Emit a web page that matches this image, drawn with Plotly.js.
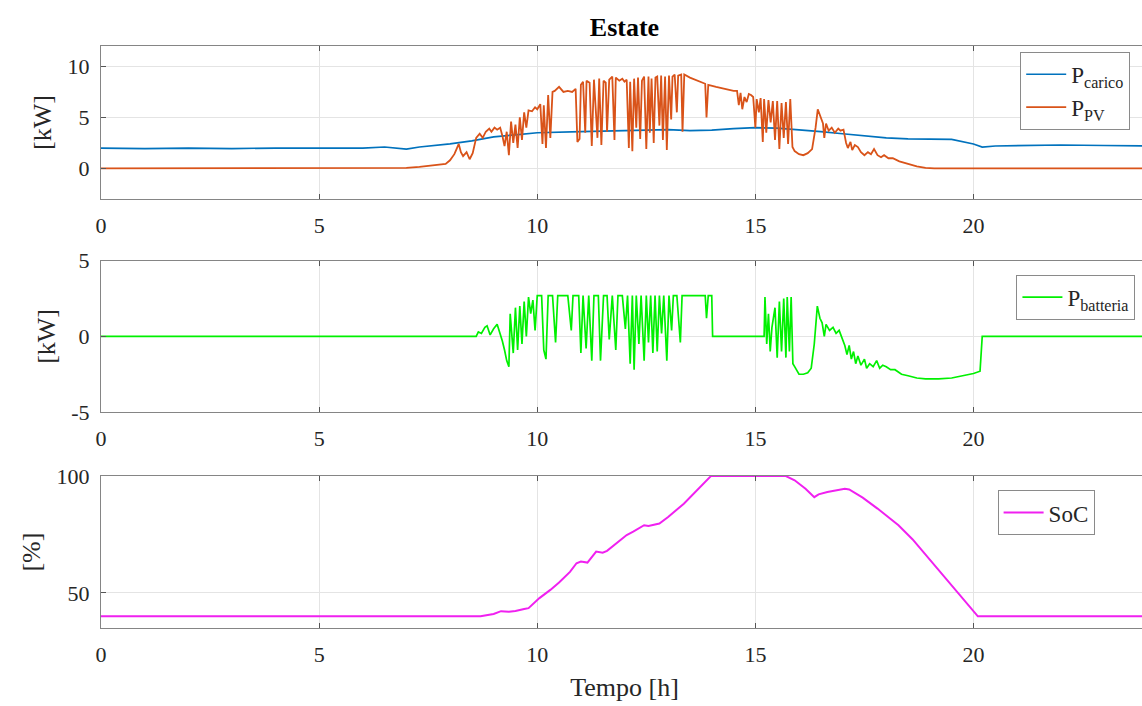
<!DOCTYPE html>
<html>
<head>
<meta charset="utf-8">
<script src="https://cdn.plot.ly/plotly-3.0.1.min.js"></script>
<style>
html,body{margin:0;padding:0;overflow:hidden;background:#fff;}
#chart{width:1148px;height:706px;}
</style>
</head>
<body>
<div id="chart"></div>
<script>
// ---- Data ----
const chartTitle = 'Estate';
const xTickVals = [0, 5, 10, 15, 20];
const y1TickVals = [0, 5, 10];
const y2TickVals = [-5, 0, 5];
const y2TickText = ['-5', '0', '5'];
const y3TickVals = [50, 100];

// Load power [kW]
const loadTime = [0,1,2,3,4,5,6,6.5,7,7.3,7.6,8,8.5,9,9.5,10,11,12,13,13.5,14,14.5,15,15.5,16,16.5,17,17.5,18,18.5,19,19.5,20,20.2,20.5,21,22,23,24];
const loadPower = [2.0,1.95,2.0,1.95,2.0,2.0,2.0,2.1,1.9,2.1,2.2,2.4,2.7,3.1,3.3,3.5,3.6,3.7,3.8,3.7,3.75,3.9,4.0,3.95,3.8,3.6,3.4,3.2,3.0,2.9,2.9,2.85,2.4,2.1,2.2,2.25,2.3,2.25,2.2];

// PV power [kW]
const pvTime = [0,6.8,7.0,7.3,7.6,7.9,8.0,8.1,8.15,8.2,8.25,8.3,8.38,8.45,8.52,8.6,8.68,8.75,8.82,8.9,8.95,9.02,9.08,9.15,9.2,9.25,9.3,9.35,9.4,9.45,9.5,9.55,9.6,9.65,9.7,9.75,9.8,9.88,9.95,10.0,10.07,10.12,10.15,10.2,10.25,10.3,10.35,10.4,10.5,10.55,10.6,10.7,10.8,10.88,10.92,10.97,11.0,11.05,
11.1,11.13,11.2,11.25,11.3,11.38,11.42,11.47,11.52,11.57,11.6,11.65,11.72,11.77,11.8,11.88,11.95,12.0,12.05,12.1,12.13,12.18,12.22,12.27,12.31,12.36,12.4,12.45,12.5,12.55,12.58,12.62,12.67,12.71,12.75,12.8,12.84,12.88,12.93,12.97,13.02,13.07,13.1,13.15,13.2,13.23,13.3,13.33,13.37,13.5,13.7,13.85,13.88,13.92,14.1,14.3,14.5,14.58,14.62,14.66,14.7,14.75,14.8,14.85,14.9,14.95,15.0,15.03,15.08,15.12,15.17,15.2,15.25,15.3,15.35,15.4,15.45,15.5,15.55,15.6,15.65,15.7,15.75,15.8,15.85,15.9,16.0,16.1,16.2,16.3,16.38,16.43,16.5,16.55,16.58,16.62,16.68,16.75,16.82,16.9,16.95,17.02,17.08,17.12,17.18,17.22,17.28,17.35,17.42,17.5,17.58,17.65,17.72,17.8,17.88,17.95,18.05,18.15,18.3,18.5,18.7,18.9,19.1,24];
const pvPower = [0,0,0.05,0.15,0.3,0.45,0.8,1.4,1.9,2.4,1.6,1.2,1.6,0.9,1.5,3.0,3.4,3.0,3.6,3.9,3.6,4.0,3.8,4.0,3.2,2.2,3.6,1.3,4.6,2.5,4.3,2.0,5.0,2.8,5.5,4.0,5.7,5.6,6.0,5.8,6.3,2.4,6.2,2.0,7.2,3.0,7.5,7.6,8.0,7.7,7.5,7.6,7.5,7.8,2.6,2.9,8.2,8.5,
3.5,8.6,8.4,2.2,8.7,3.0,8.8,2.3,8.6,8.4,3.6,8.7,9.0,2.8,8.9,8.6,8.8,8.5,8.7,2.0,8.5,1.7,8.8,4.0,8.9,2.9,8.6,9.0,1.9,9.0,3.5,8.8,2.5,8.9,9.0,4.2,9.1,2.8,9.0,1.8,9.1,4.8,9.0,9.2,5.5,9.1,9.2,3.6,9.2,8.9,8.6,8.3,5.0,8.2,8.0,7.8,7.6,7.6,6.2,7.4,5.8,7.0,6.5,7.3,7.2,7.0,4.0,6.8,5.5,6.9,2.6,6.8,3.5,6.7,4.5,6.6,2.8,6.6,1.9,6.4,3.0,6.5,2.4,6.8,2.1,1.7,1.4,1.3,1.5,1.9,4.0,5.8,4.9,4.4,3.0,4.4,3.7,4.0,3.5,3.9,3.7,3.8,2.5,2.0,2.6,1.8,2.3,2.1,1.6,1.3,1.6,1.4,1.9,1.3,1.1,1.3,1.0,1.0,0.7,0.45,0.2,0.05,0,0];

// Battery power [kW]
const batTime = [0,8.6,8.65,8.72,8.8,8.85,8.92,9.0,9.08,9.15,9.2,9.25,9.3,9.35,9.38,9.45,9.5,9.55,9.6,9.65,9.7,9.75,9.8,9.85,9.9,9.95,10.0,10.1,10.15,10.2,10.25,10.35,10.42,10.47,10.7,10.78,10.82,10.95,11.0,11.05,11.12,11.18,11.25,11.3,11.4,11.45,11.52,11.6,11.65,11.72,11.8,11.85,11.95,12.02,12.07,12.13,12.18,12.22,12.27,12.33,12.38,12.45,12.5,12.55,12.6,12.65,12.7,12.75,12.8,12.85,12.9,12.97,13.02,13.08,13.12,13.2,13.28,13.32,13.5,13.85,13.88,13.92,14.0,14.02,15.2,15.22,15.26,15.3,15.34,15.38,15.45,15.5,15.55,15.6,15.65,15.7,15.73,15.78,15.82,15.86,15.9,16.0,16.1,16.2,16.28,16.35,16.42,16.48,16.53,16.58,16.62,16.7,16.78,16.85,16.92,17.0,17.05,17.1,17.15,17.2,17.25,17.3,17.35,17.42,17.5,17.55,17.62,17.7,17.78,17.85,17.92,18.0,18.1,18.2,18.35,18.5,18.7,18.9,19.2,19.5,19.8,20.0,20.15,20.2,24];
const batPower = [0,0,0.3,0.2,0.6,0.7,0.1,0.5,0.8,0.2,-0.3,-0.9,-1.6,-2.0,1.5,-1.1,1.9,-0.9,2.0,-0.5,2.3,0.0,2.6,1.5,2.4,0.4,2.7,2.7,-0.9,-1.5,2.7,2.7,-0.4,2.7,2.7,0.4,2.7,2.7,-1.1,2.7,-0.8,2.7,-1.6,2.7,2.7,-1.6,2.7,2.7,-0.2,2.7,-0.9,2.7,2.7,0.5,2.7,-1.8,2.7,-2.2,2.7,-0.5,2.7,-1.6,2.7,-0.4,2.7,-1.1,2.7,-1.0,2.7,0.2,2.7,-1.6,2.7,0.4,2.7,2.7,-0.4,2.7,2.7,2.7,1.2,2.7,2.7,0,0,2.6,-0.5,1.5,-1.0,0.6,1.9,-1.4,2.3,-1.0,2.5,-1.4,2.6,-1.0,2.6,-1.8,-2.0,-2.5,-2.5,-2.4,-2.1,-0.5,2.0,1.2,0.9,0.0,0.8,0.4,0.6,0.2,0.4,-0.3,-0.6,-1.2,-0.6,-1.5,-1.0,-1.8,-1.3,-1.9,-1.5,-2.1,-1.8,-2.0,-1.6,-2.1,-1.9,-2.0,-2.2,-2.2,-2.5,-2.6,-2.75,-2.8,-2.8,-2.75,-2.6,-2.45,-2.3,0,0];

// State of charge [%]
const socTime = [0,8.7,9.0,9.17,9.35,9.5,9.7,9.8,10.05,10.3,10.5,10.75,10.9,11.0,11.15,11.35,11.5,11.6,12.05,12.2,12.45,12.55,12.8,13.0,13.36,13.7,13.98,15.7,15.9,16.15,16.35,16.45,16.65,17.05,17.15,17.46,17.8,18.28,18.6,20.1,24];
const socValue = [40,40,41,42.2,42,42.3,43.1,43.5,47.8,51.3,54.5,59,62.7,63.4,63,67.7,67.2,68,74.8,76.2,79,78.7,79.7,82.5,88.2,94.6,100,100,98.2,94.6,91,92.2,93.2,94.6,94.3,90.8,86.1,79,73,40,40];

const seriesNames = ['P<sub>carico</sub>', 'P<sub>PV</sub>', 'P<sub>batteria</sub>', 'SoC'];

// ---- Styling ----
const FONT = 'Liberation Serif, Times New Roman, serif';
const gridC = '#e4e4e4';
const lineC = '#858585';

function xAxis(anchor, withTitle) {
  const a = {
    anchor: anchor, range: [0, 24], tickvals: xTickVals, ticks: 'inside', ticklen: 5,
    tickcolor: '#555', showline: true, linecolor: lineC, linewidth: 1, mirror: 'ticks',
    showgrid: true, gridcolor: gridC, zeroline: false, ticklabelstandoff: 7,
    tickfont: {family: FONT, size: 22, color: '#262626'}
  };
  if (withTitle) a.title = {text: 'Tempo [h]', font: {family: FONT, size: 26, color: '#262626'}, standoff: 11};
  return a;
}
function yAxis(anchor, domain, range, tickvals, ticktext, title) {
  const a = {
    anchor: anchor, domain: domain, range: range, tickvals: tickvals, ticks: 'inside', ticklen: 5,
    tickcolor: '#555', showline: true, linecolor: lineC, linewidth: 1, mirror: 'ticks',
    showgrid: true, gridcolor: gridC, zeroline: false, ticklabelstandoff: 6,
    tickfont: {family: FONT, size: 22, color: '#262626'},
    title: {text: title, font: {family: FONT, size: 26, color: '#262626'}, standoff: 8}
  };
  if (ticktext) a.ticktext = ticktext;
  return a;
}
function legendBox(x, y) {
  return {x: x, y: y, xanchor: 'right', yanchor: 'top', bgcolor: '#fff', bordercolor: '#8a8a8a',
    borderwidth: 1, font: {family: FONT, size: 23, color: '#262626'}, tracegroupgap: 0, itemwidth: 40};
}

const traces = [
  {x: loadTime, y: loadPower, name: seriesNames[0], mode: 'lines', line: {color: '#0072BD', width: 1.7}, xaxis: 'x', yaxis: 'y', legend: 'legend'},
  {x: pvTime, y: pvPower, name: seriesNames[1], mode: 'lines', line: {color: '#D95319', width: 1.8}, xaxis: 'x', yaxis: 'y', legend: 'legend'},
  {x: batTime, y: batPower, name: seriesNames[2], mode: 'lines', line: {color: '#00F000', width: 1.7}, xaxis: 'x2', yaxis: 'y2', legend: 'legend2'},
  {x: socTime, y: socValue, name: seriesNames[3], mode: 'lines', line: {color: '#F020F0', width: 2}, xaxis: 'x3', yaxis: 'y3', legend: 'legend3'}
];

const layout = {
  width: 1148, height: 706,
  margin: {l: 101, r: 0, t: 46, b: 78},
  paper_bgcolor: '#fff', plot_bgcolor: '#fff',
  font: {family: FONT, color: '#262626'},
  title: {text: '<b>' + chartTitle + '</b>', font: {family: FONT, size: 26, color: '#000'}, x: 0.5, xref: 'paper', y: 0.962, yanchor: 'middle'},
  showlegend: true,
  xaxis: xAxis('y', false),
  xaxis2: xAxis('y2', false),
  xaxis3: xAxis('y3', true),
  yaxis: yAxis('x', [0.737, 1.0], [-3, 12], y1TickVals, null, '[kW]'),
  yaxis2: yAxis('x2', [0.371, 0.631], [-5, 5], y2TickVals, y2TickText, '[kW]'),
  yaxis3: yAxis('x3', [0, 0.261], [35, 100], y3TickVals, null, '[%]'),
  legend: legendBox(0.983, 0.99),
  legend2: legendBox(0.988, 0.607),
  legend3: legendBox(0.949, 0.237)
};

Plotly.newPlot('chart', traces, layout, {displayModeBar: false, staticPlot: true});
</script>
</body>
</html>
